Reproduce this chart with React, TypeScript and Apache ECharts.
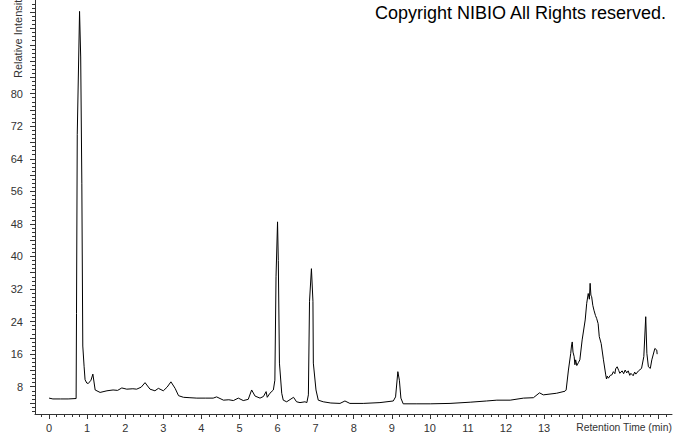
import React, { useEffect, useRef } from "react";
import * as echarts from "echarts";

// Chromatogram trace: [retention time (min), relative intensity]
const solventFront: [number, number][] = [
  [0, 5.2], [0.1, 5.0], [0.3, 5.0], [0.5, 5.0], [0.71, 5.1], [0.72, 26], [0.74, 70],
  [0.8, 100.2], [0.83, 89], [0.86, 58], [0.885, 18], [0.92, 12.9], [0.945, 9.7],
  [0.99, 8.9], [1.03, 8.8], [1.1, 9.6], [1.15, 11.1], [1.21, 7.2], [1.34, 6.6],
];
const earlyRegion: [number, number][] = [
  [1.52, 7.0], [1.68, 7.2], [1.8, 7.1], [1.91, 7.7], [2.04, 7.4], [2.2, 7.5], [2.3, 7.4],
  [2.42, 7.9], [2.52, 9.0], [2.65, 7.4], [2.78, 7.0], [2.87, 7.6], [3.0, 7.0], [3.1, 7.9],
  [3.2, 9.2], [3.31, 7.6], [3.4, 5.8], [3.53, 5.4], [3.7, 5.3], [3.88, 5.2], [4.1, 5.2],
  [4.31, 5.2], [4.4, 5.5], [4.58, 4.7], [4.72, 4.8], [4.84, 4.6], [4.97, 5.2], [5.1, 4.6],
  [5.23, 4.9],
];
const midPeaks: [number, number][] = [
  [5.32, 7.2], [5.41, 5.7], [5.54, 5.2], [5.63, 5.6], [5.7, 6.8], [5.73, 5.4], [5.8, 6.4],
  [5.89, 7.2], [5.93, 9.6], [5.96, 35], [6.0, 48.5], [6.02, 39], [6.05, 13.8], [6.11, 6.4],
  [6.15, 4.7], [6.24, 4.3], [6.42, 5.4], [6.5, 4.3], [6.59, 4.1], [6.72, 4.3], [6.77, 4.1],
  [6.81, 6.0], [6.84, 29], [6.89, 37], [6.93, 29], [6.94, 13.8], [7.01, 7.2], [7.07, 4.7],
  [7.2, 4.3], [7.4, 4.0], [7.64, 3.9], [7.77, 4.5], [7.9, 3.9],
];
const lateRegion: [number, number][] = [
  [8.25, 3.9], [8.69, 4.1], [9.04, 4.5], [9.1, 5.5], [9.16, 11.7], [9.2, 9.6], [9.24, 5.2],
  [9.3, 3.8], [9.66, 3.8], [10.01, 3.8], [10.53, 3.9], [11.06, 4.2], [11.49, 4.5],
  [11.76, 4.7], [12.11, 4.7], [12.46, 5.2], [12.72, 5.3], [12.88, 6.5], [12.98, 6.0],
  [13.33, 6.4], [13.55, 6.9],
];
const humpRegion: [number, number][] = [
  [13.58, 7.2], [13.64, 12.1], [13.7, 16.2], [13.72, 18.0], [13.74, 19.0], [13.76, 16.5],
  [13.79, 15.4], [13.81, 13.4], [13.83, 14.6], [13.86, 13.2], [13.9, 13.9], [13.94, 14.6], [14.0, 19.5],
  [14.08, 24.4], [14.12, 28.5], [14.16, 30.9], [14.19, 29.5], [14.21, 33.4], [14.23, 30.5],
  [14.25, 30.1], [14.28, 28.0], [14.31, 26.8], [14.35, 25.5], [14.38, 24.8], [14.42, 23.5],
  [14.45, 20.3], [14.5, 18.6], [14.56, 14.6], [14.62, 10.9], [14.64, 9.9], [14.66, 10.6], [14.69, 10.1],
  [14.74, 10.8], [14.78, 10.9], [14.82, 11.7], [14.86, 11.2], [14.88, 12.4], [14.92, 12.9], [14.96, 12.0],
  [14.99, 11.3], [15.05, 11.9], [15.09, 11.2], [15.13, 12.1], [15.17, 11.4], [15.21, 11.9], [15.25, 10.8],
  [15.28, 11.3], [15.34, 10.7], [15.38, 11.6], [15.41, 11.1], [15.48, 11.9], [15.56, 12.5], [15.62, 15.4],
  [15.67, 25.2], [15.7, 16.2], [15.74, 12.9], [15.79, 12.5], [15.83, 14.6], [15.91, 17.4], [15.96, 17.0],
  [15.97, 16.0],
];

const xLabelValues = [0, 1, 2, 3, 4, 5, 6, 7, 8, 9, 10, 11, 12, 13];
const xMajorTicks = [0, 1, 2, 3, 4, 5, 6, 7, 8, 9, 10, 11, 12, 13, 14, 15, 16];
const yLabelValues = [8, 16, 24, 32, 40, 48, 56, 64, 72, 80];

const X_MIN = -0.37;
const X_MAX = 16.36;
const Y_MIN = 1.3;
const Y_MAX = 103;

const FONT = "'Liberation Sans', Arial, sans-serif";

export default function App() {
  const ref = useRef<HTMLDivElement>(null);
  useEffect(() => {
    if (!ref.current) return;
    const chart = echarts.init(ref.current, undefined, { renderer: "svg" });

    const trace = [...solventFront, ...earlyRegion, ...midPeaks, ...lateRegion, ...humpRegion];

    const xMinor: number[] = [];
    for (let i = -1; i <= 81; i++) {
      const v = Math.round(i * 0.2 * 10) / 10;
      if (Math.abs(v - Math.round(v)) > 1e-6) xMinor.push(v);
    }
    const yMajorTicks: number[] = [];
    for (let v = 4; v <= 100; v += 4) yMajorTicks.push(v);
    const yMinor: number[] = [];
    for (let v = 2; v <= 102; v++) if (v % 4 !== 0) yMinor.push(v);

    const axisColor = "#333";

    chart.setOption({
      animation: false,
      backgroundColor: "#fff",
      grid: { left: 35, right: 2, top: 0, bottom: 20, containLabel: false },
      xAxis: [
        {
          type: "value",
          min: X_MIN,
          max: X_MAX,
          splitLine: { show: false },
          axisLine: { show: true, onZero: false, lineStyle: { color: axisColor, width: 1 } },
          axisTick: { show: true, length: 5, customValues: xMajorTicks, lineStyle: { color: axisColor } },
          axisLabel: {
            customValues: xLabelValues,
            color: "#333",
            fontSize: 11,
            fontFamily: FONT,
            margin: 8,
          },
        },
        {
          type: "value",
          min: X_MIN,
          max: X_MAX,
          position: "bottom",
          splitLine: { show: false },
          axisLine: { show: false, onZero: false },
          axisTick: { show: true, length: 3, customValues: xMinor, lineStyle: { color: axisColor } },
          axisLabel: { show: false },
        },
      ],
      yAxis: [
        {
          type: "value",
          min: Y_MIN,
          max: Y_MAX,
          splitLine: { show: false },
          axisLine: { show: true, onZero: false, lineStyle: { color: axisColor, width: 1 } },
          axisTick: { show: true, length: 5, customValues: yMajorTicks, lineStyle: { color: axisColor } },
          axisLabel: {
            customValues: yLabelValues,
            color: "#333",
            fontSize: 11,
            fontFamily: FONT,
            margin: 12,
          },
        },
        {
          type: "value",
          min: Y_MIN,
          max: Y_MAX,
          position: "left",
          splitLine: { show: false },
          axisLine: { show: false, onZero: false },
          axisTick: { show: true, length: 3, customValues: yMinor, lineStyle: { color: axisColor } },
          axisLabel: { show: false },
        },
      ],
      graphic: [
        {
          type: "text",
          right: 7,
          top: 4,
          style: {
            text: "Copyright NIBIO All Rights reserved.",
            fill: "#000",
            font: `18px ${FONT}`,
          },
        },
        {
          type: "text",
          right: 2,
          top: 422,
          style: {
            text: "Retention Time (min)",
            fill: "#333",
            font: `10.3px ${FONT}`,
          },
        },
        {
          type: "text",
          x: 18,
          y: 78,
          rotation: Math.PI / 2,
          style: {
            text: "Relative Intensity",
            fill: "#333",
            font: `11px ${FONT}`,
            textAlign: "left",
            textVerticalAlign: "middle",
          },
        },
      ],
      series: [
        {
          type: "line",
          xAxisIndex: 0,
          yAxisIndex: 0,
          data: trace,
          showSymbol: false,
          symbol: "none",
          lineStyle: { color: "#000", width: 1 },
          clip: true,
        },
      ],
    });
    return () => chart.dispose();
  }, []);
  return (
    <div
      ref={ref}
      style={{ position: "fixed", left: 0, top: 0, width: 674, height: 434, background: "#fff" }}
    />
  );
}
